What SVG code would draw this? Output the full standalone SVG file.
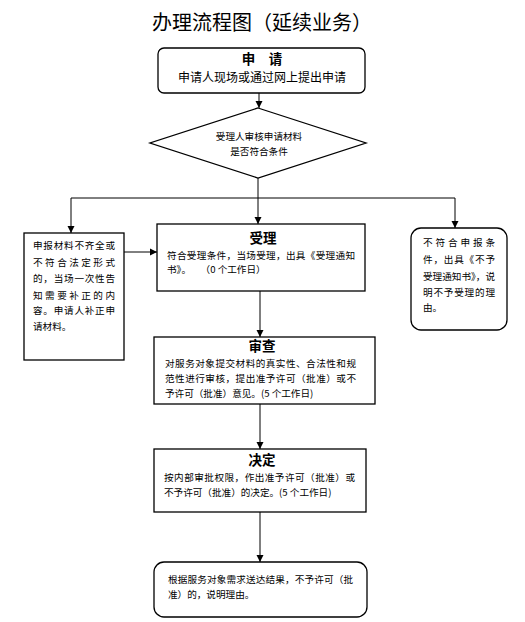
<svg xmlns="http://www.w3.org/2000/svg" width="525" height="622" viewBox="0 0 525 622">
<defs>
<marker id="arr" markerWidth="8" markerHeight="8" refX="7" refY="4" orient="auto" markerUnits="userSpaceOnUse">
<path d="M0,0.5 L7,4 L0,7.5 Z" fill="#000"/>
</marker>
<style>
.box{fill:#fff;stroke:#000;stroke-width:1.3}
.ln{fill:none;stroke:#000;stroke-width:1}
.t{font-family:"Noto Sans CJK SC","Noto Sans",sans-serif;fill:#000}
.s{font-size:9.6px}
.h{font-size:13.5px;font-weight:bold}
</style>
</defs>
<rect width="525" height="622" fill="#fff"/>
<text class="t" x="262" y="30" font-size="20" text-anchor="middle">办理流程图（延续业务）</text>

<g id="connectors">
<line class="ln" x1="259" y1="93" x2="259" y2="108" marker-end="url(#arr)"/>
<line class="ln" x1="258" y1="178" x2="258" y2="224" marker-end="url(#arr)"/>
<line class="ln" x1="71" y1="198" x2="455" y2="198"/>
<line class="ln" x1="71" y1="198" x2="71" y2="233" marker-end="url(#arr)"/>
<line class="ln" x1="455" y1="198" x2="455" y2="228" marker-end="url(#arr)"/>
<line class="ln" x1="124" y1="252" x2="157" y2="252" marker-end="url(#arr)"/>
<line class="ln" x1="260" y1="291" x2="260" y2="337" marker-end="url(#arr)"/>
<line class="ln" x1="260" y1="404" x2="260" y2="449" marker-end="url(#arr)"/>
<line class="ln" x1="260" y1="512" x2="260" y2="562" marker-end="url(#arr)"/>
</g>

<g id="apply">
<rect class="box" x="158" y="48" width="207" height="45" rx="6"/>
<text class="t h" x="262" y="64" text-anchor="middle">申　请</text>
<text class="t" x="262" y="82" font-size="12" text-anchor="middle">申请人现场或通过网上提出申请</text>
</g>

<g id="review">
<polygon class="box" points="258,108 366,143 258,178 150,143"/>
<text class="t s" x="259" y="140" text-anchor="middle">受理人审核申请材料</text>
<text class="t s" x="259" y="155" text-anchor="middle">是否符合条件</text>
</g>

<g id="supplement">
<rect class="box" x="24" y="233" width="100" height="127"/>
<text class="t s" x="33" y="249" textLength="82" lengthAdjust="spacing">申报材料不齐全或</text>
<text class="t s" x="33" y="266" textLength="82" lengthAdjust="spacing">不符合法定形式</text>
<text class="t s" x="33" y="282" textLength="82" lengthAdjust="spacing">的，当场一次性告</text>
<text class="t s" x="33" y="299" textLength="82" lengthAdjust="spacing">知需要补正的内</text>
<text class="t s" x="33" y="314" textLength="82" lengthAdjust="spacing">容。申请人补正申</text>
<text class="t s" x="33" y="330">请材料。</text>
</g>

<g id="accept">
<rect class="box" x="157" y="224" width="208" height="67"/>
<text class="t h" x="263" y="243" text-anchor="middle">受理</text>
<text class="t s" x="167" y="259" textLength="188" lengthAdjust="spacing">符合受理条件，当场受理，出具《受理通知</text>
<text class="t s" x="167" y="273">书》。　　（0 个工作日）</text>
</g>

<g id="reject">
<rect class="box" x="411" y="228" width="96" height="102" rx="10"/>
<text class="t s" x="423" y="246" textLength="72" lengthAdjust="spacing">不符合申报条</text>
<text class="t s" x="423" y="263" textLength="72" lengthAdjust="spacing">件，出具《不予</text>
<text class="t s" x="423" y="280" textLength="72" lengthAdjust="spacing">受理通知书》，说</text>
<text class="t s" x="423" y="296" textLength="72" lengthAdjust="spacing">明不予受理的理</text>
<text class="t s" x="423" y="311">由。</text>
</g>

<g id="examine">
<rect class="box" x="154" y="337" width="221" height="67"/>
<text class="t h" x="262" y="351" text-anchor="middle">审查</text>
<text class="t s" x="165" y="367" textLength="191" lengthAdjust="spacing">对服务对象提交材料的真实性、合法性和规</text>
<text class="t s" x="165" y="382" textLength="191" lengthAdjust="spacing">范性进行审核，提出准予许可（批准）或不</text>
<text class="t s" x="165" y="397">予许可（批准）意见。(5 个工作日)</text>
</g>

<g id="decide">
<rect class="box" x="154" y="449" width="212" height="63"/>
<text class="t h" x="262" y="465" text-anchor="middle">决定</text>
<text class="t s" x="164" y="481" textLength="191" lengthAdjust="spacing">按内部审批权限，作出准予许可（批准）或</text>
<text class="t s" x="164" y="496">不予许可（批准）的决定。(5 个工作日)</text>
</g>

<g id="deliver">
<rect class="box" x="154" y="562" width="213" height="55" rx="10"/>
<text class="t s" x="168" y="583" textLength="185" lengthAdjust="spacing">根据服务对象需求送达结果，不予许可（批</text>
<text class="t s" x="168" y="598">准）的，说明理由。</text>
</g>
</svg>
